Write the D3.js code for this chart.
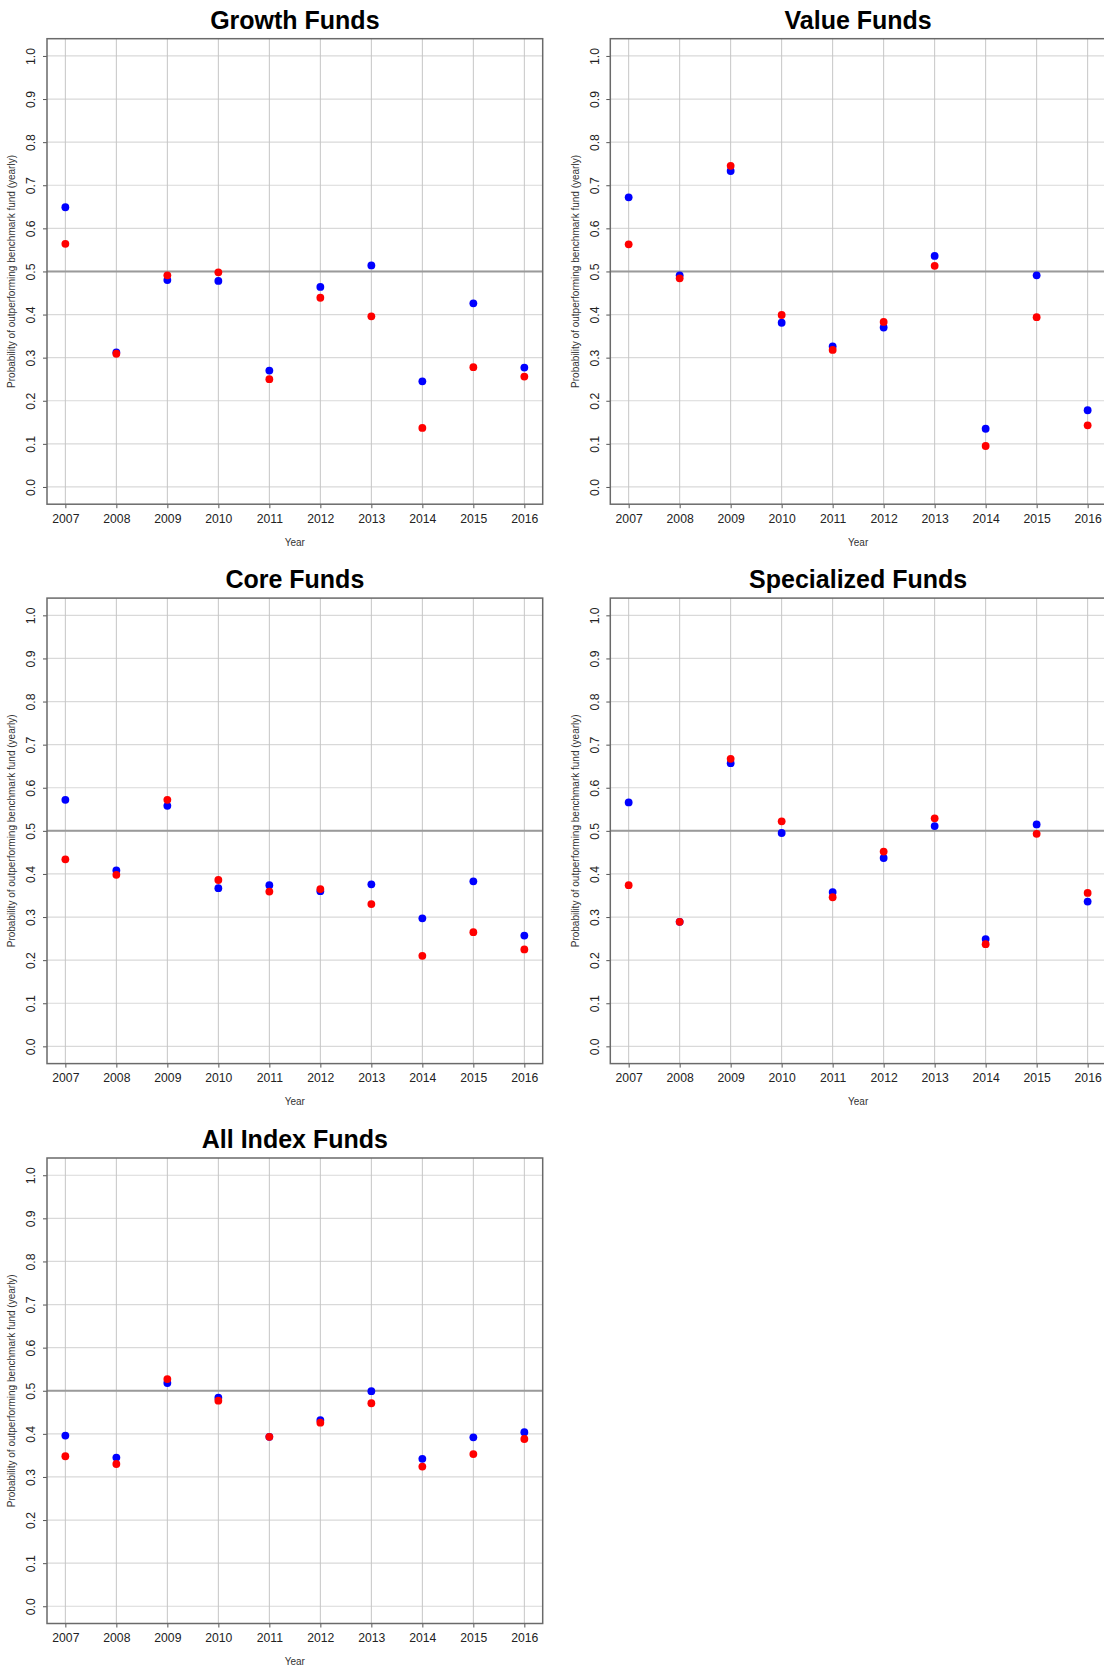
<!DOCTYPE html>
<html>
<head>
<meta charset="utf-8">
<script src="https://d3js.org/d3.v7.min.js"></script>
<style>
  html, body { margin: 0; padding: 0; background: #fff; overflow: hidden; }
  svg { display: block; font-family: "Liberation Sans", Arial, Helvetica, sans-serif; }
</style>
</head>
<body>
<script>
// ---- Data ----
const years = [2007, 2008, 2009, 2010, 2011, 2012, 2013, 2014, 2015, 2016];
const yTicks = [0.0, 0.1, 0.2, 0.3, 0.4, 0.5, 0.6, 0.7, 0.8, 0.9, 1.0];
const panelTitles = ["Growth Funds", "Value Funds", "Core Funds", "Specialized Funds", "All Index Funds"];

const growthBlue = [0.649, 0.312, 0.480, 0.478, 0.270, 0.464, 0.514, 0.245, 0.426, 0.277];
const growthRed  = [0.564, 0.309, 0.491, 0.498, 0.250, 0.439, 0.396, 0.137, 0.278, 0.256];

const valueBlue  = [0.672, 0.491, 0.733, 0.381, 0.326, 0.370, 0.536, 0.135, 0.491, 0.178];
const valueRed   = [0.563, 0.484, 0.745, 0.399, 0.318, 0.383, 0.513, 0.095, 0.394, 0.143];

const coreBlue   = [0.572, 0.408, 0.558, 0.367, 0.374, 0.360, 0.376, 0.297, 0.383, 0.257];
const coreRed    = [0.434, 0.398, 0.572, 0.386, 0.359, 0.365, 0.330, 0.210, 0.265, 0.225];

const specBlue   = [0.566, 0.289, 0.657, 0.495, 0.358, 0.437, 0.511, 0.249, 0.515, 0.336];
const specRed    = [0.374, 0.289, 0.667, 0.522, 0.346, 0.452, 0.529, 0.237, 0.493, 0.356];

const allBlue    = [0.396, 0.345, 0.518, 0.484, 0.393, 0.432, 0.499, 0.342, 0.392, 0.404];
const allRed     = [0.348, 0.330, 0.527, 0.477, 0.393, 0.426, 0.471, 0.324, 0.353, 0.388];

const blueSeries = [growthBlue, valueBlue, coreBlue, specBlue, allBlue];
const redSeries  = [growthRed, valueRed, coreRed, specRed, allRed];

const yLabel = "Probability of outperforming benchmark fund (yearly)";
const xLabel = "Year";
const refLine = 0.5;

// ---- Layout ----
const W = 1104, H = 1667;
const colOff = [0, 563.3];
const rowOff = [0, 559.4, 1119.3];
const box = { left: 47, right: 542.7, top: 38.7, bottom: 504.2 };

const svg = d3.select("body").append("svg").attr("width", W).attr("height", H);

const x = d3.scaleLinear().domain([2007 - 0.36, 2016 + 0.36]).range([box.left, box.right]);
const y = d3.scaleLinear().domain([-0.04, 1.04]).range([box.bottom, box.top]);

panelTitles.forEach((title, i) => {
  const col = i % 2, row = Math.floor(i / 2);
  const g = svg.append("g").attr("transform", `translate(${colOff[col]},${rowOff[row]})`);

  // grid: horizontal
  g.append("g").selectAll("line").data(yTicks).join("line")
    .attr("x1", box.left).attr("x2", box.right)
    .attr("y1", d => y(d)).attr("y2", d => y(d))
    .attr("stroke", "#d9d9d9").attr("stroke-width", 1.2);
  // grid: vertical
  g.append("g").selectAll("line").data(years).join("line")
    .attr("x1", d => x(d)).attr("x2", d => x(d))
    .attr("y1", box.top).attr("y2", box.bottom)
    .attr("stroke", "#c6c6c6").attr("stroke-width", 1);

  // reference line at 0.5
  g.append("line")
    .attr("x1", box.left).attr("x2", box.right)
    .attr("y1", y(refLine)).attr("y2", y(refLine))
    .attr("stroke", "#9a9a9a").attr("stroke-width", 2);

  // axes
  const yAxis = g.append("g").attr("transform", `translate(${box.left},0)`)
    .call(d3.axisLeft(y).tickValues(yTicks).tickFormat(d3.format(".1f")).tickSize(4).tickSizeOuter(0));
  yAxis.select(".domain").remove();
  yAxis.selectAll(".tick line").attr("stroke", "#555").attr("stroke-width", 1);
  yAxis.selectAll(".tick text")
    .attr("transform", "rotate(-90)")
    .attr("x", 0).attr("y", -11.7).attr("dy", 0)
    .attr("text-anchor", "middle")
    .attr("font-size", 12.2).attr("fill", "#222")
    .attr("font-family", "Liberation Sans, Arial, sans-serif");

  const xAxis = g.append("g").attr("transform", `translate(0,${box.bottom})`)
    .call(d3.axisBottom(x).tickValues(years).tickFormat(d3.format("d")).tickSize(4).tickPadding(6).tickSizeOuter(0));
  xAxis.select(".domain").remove();
  xAxis.selectAll(".tick line").attr("stroke", "#555").attr("stroke-width", 1);
  xAxis.selectAll(".tick text")
    .attr("font-size", 12.2).attr("fill", "#222")
    .attr("font-family", "Liberation Sans, Arial, sans-serif");

  // box
  g.append("rect")
    .attr("x", box.left).attr("y", box.top)
    .attr("width", box.right - box.left).attr("height", box.bottom - box.top)
    .attr("fill", "none").attr("stroke", "#6a6a6a").attr("stroke-width", 1.5);

  // points: blue then red
  g.append("g").selectAll("circle").data(years.map((yr, j) => [yr, blueSeries[i][j]])).join("circle")
    .attr("cx", d => x(d[0])).attr("cy", d => y(d[1])).attr("r", 3.9).attr("fill", "#0000ff");
  g.append("g").selectAll("circle").data(years.map((yr, j) => [yr, redSeries[i][j]])).join("circle")
    .attr("cx", d => x(d[0])).attr("cy", d => y(d[1])).attr("r", 3.9).attr("fill", "#ff0000");

  // title
  g.append("text")
    .attr("x", (box.left + box.right) / 2).attr("y", 28.5)
    .attr("text-anchor", "middle").attr("font-size", 25).attr("font-weight", "bold")
    .attr("fill", "#000").text(title);

  // axis labels
  g.append("text")
    .attr("x", (box.left + box.right) / 2).attr("y", 545.5)
    .attr("text-anchor", "middle").attr("font-size", 10).attr("fill", "#333")
    .text(xLabel);
  g.append("text")
    .attr("transform", `translate(15.4,${(box.top + box.bottom) / 2}) rotate(-90)`)
    .attr("text-anchor", "middle").attr("font-size", 10).attr("fill", "#333")
    .text(yLabel);
});
</script>
</body>
</html>
